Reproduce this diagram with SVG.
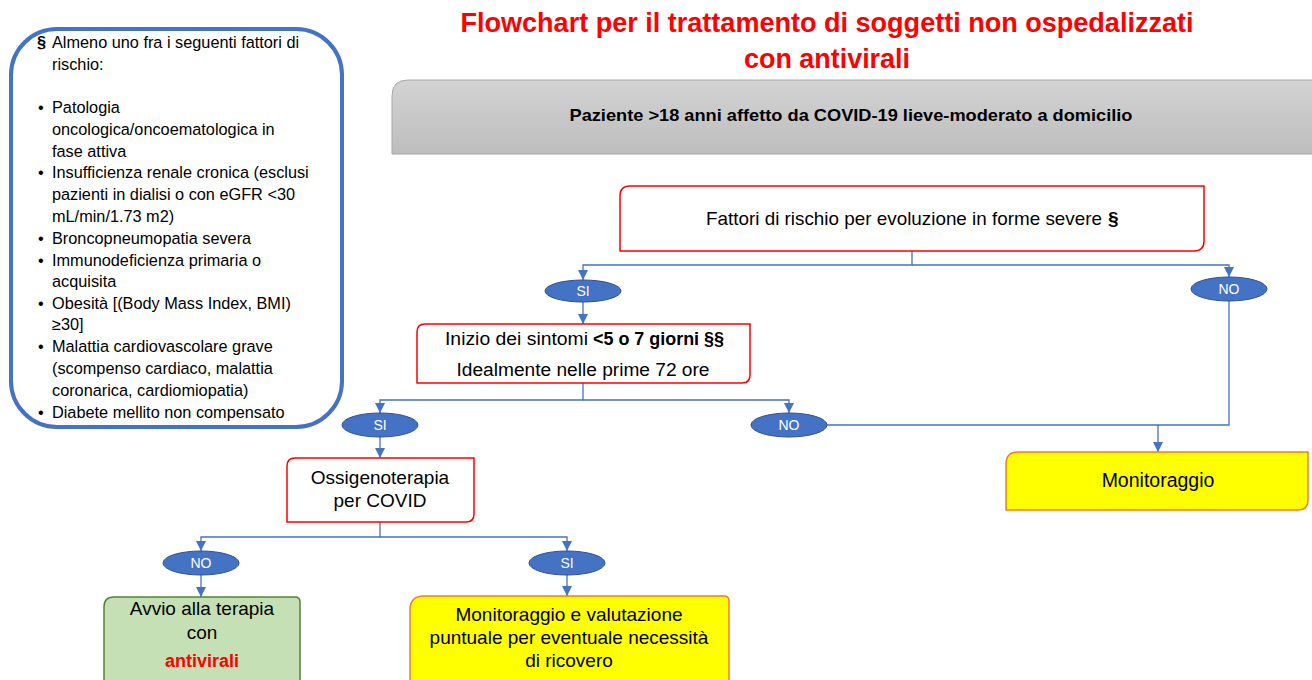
<svg xmlns="http://www.w3.org/2000/svg" width="1312" height="680" viewBox="0 0 1312 680">
<defs>
<linearGradient id="grey" x1="0" y1="0" x2="0" y2="1">
<stop offset="0" stop-color="#d3d3d3"/>
<stop offset="1" stop-color="#bdbdbd"/>
</linearGradient>
<marker id="arr" viewBox="0 0 10 10" refX="10" refY="5" markerWidth="10" markerHeight="10" markerUnits="userSpaceOnUse" orient="auto">
<path d="M0,0 L10,5 L0,10 Z" fill="#4472C4"/>
</marker>
<style>
text{font-family:"Liberation Sans",Arial,sans-serif;fill:#000}
.c{text-anchor:middle}
.b{font-weight:bold}
.red{fill:#ff0000}
.box{fill:#fff;stroke:#ff0000;stroke-width:1.5}
.ell{fill:#4472C4;stroke:#2F528F;stroke-width:1}
.et{fill:#fff;font-size:14px;text-anchor:middle}
.con{fill:none;stroke:#4472C4;stroke-width:1.3}
.lt{font-size:16.3px}
.bt{font-size:19px}
.yel{fill:#ffff00;stroke:#ED7D31;stroke-width:1.5}
</style>
</defs>
<rect width="1312" height="680" fill="#fff"/>

<g id="title">
<text class="c b red" x="827" y="32" font-size="28" textLength="733" lengthAdjust="spacingAndGlyphs">Flowchart per il trattamento di soggetti non ospedalizzati</text>
<text class="c b red" x="827" y="68" font-size="28" textLength="166" lengthAdjust="spacingAndGlyphs">con antivirali</text>
</g>

<g id="risk-list">
<rect x="11" y="29" width="331" height="398" rx="46" ry="46" fill="#fff" stroke="#4472C4" stroke-width="4"/>
<text class="lt b" x="37" y="48">§</text><text class="lt" x="52" y="48">Almeno uno fra i seguenti fattori di</text>
<text class="lt" x="52" y="70">rischio:</text>
<text class="lt" x="38" y="113">•</text><text class="lt" x="52" y="113">Patologia</text>
<text class="lt" x="52" y="135">oncologica/oncoematologica in</text>
<text class="lt" x="52" y="157">fase attiva</text>
<text class="lt" x="38" y="178">•</text><text class="lt" x="52" y="178">Insufficienza renale cronica (esclusi</text>
<text class="lt" x="52" y="200">pazienti in dialisi o con eGFR &lt;30</text>
<text class="lt" x="52" y="222">mL/min/1.73 m2)</text>
<text class="lt" x="38" y="244">•</text><text class="lt" x="52" y="244">Broncopneumopatia severa</text>
<text class="lt" x="38" y="266">•</text><text class="lt" x="52" y="266">Immunodeficienza primaria o</text>
<text class="lt" x="52" y="287">acquisita</text>
<text class="lt" x="38" y="309">•</text><text class="lt" x="52" y="309">Obesità [(Body Mass Index, BMI)</text>
<text class="lt" x="52" y="330">≥30]</text>
<text class="lt" x="38" y="352">•</text><text class="lt" x="52" y="352">Malattia cardiovascolare grave</text>
<text class="lt" x="52" y="374">(scompenso cardiaco, malattia</text>
<text class="lt" x="52" y="396">coronarica, cardiomiopatia)</text>
<text class="lt" x="38" y="418">•</text><text class="lt" x="52" y="418">Diabete mellito non compensato</text>
</g>

<g id="patient">
<path d="M392,154 V96 Q392,80 408,80 H1313 V154 Z" fill="url(#grey)" stroke="#a8a8a8" stroke-width="1"/>
<text class="c b" x="851" y="121" font-size="17" textLength="563" lengthAdjust="spacingAndGlyphs">Paziente &gt;18  anni affetto da COVID-19 lieve-moderato a domicilio</text>
</g>

<g id="connectors">
<path class="con" d="M912,251 V265 H583 V280" marker-end="url(#arr)"/>
<path class="con" d="M912,265 H1229 V277" marker-end="url(#arr)"/>
<path class="con" d="M583,302 V324" marker-end="url(#arr)"/>
<path class="con" d="M1229,301 V425 H827"/>
<path class="con" d="M1158,425 V452" marker-end="url(#arr)"/>
<path class="con" d="M583,383 V400 H380 V413" marker-end="url(#arr)"/>
<path class="con" d="M583,400 H789 V413" marker-end="url(#arr)"/>
<path class="con" d="M380,437 V458" marker-end="url(#arr)"/>
<path class="con" d="M380,522 V537 H201 V551" marker-end="url(#arr)"/>
<path class="con" d="M380,537 H567 V551" marker-end="url(#arr)"/>
<path class="con" d="M201,575 V597" marker-end="url(#arr)"/>
<path class="con" d="M567,575 V596" marker-end="url(#arr)"/>
</g>

<g id="risk-factors">
<path class="box" d="M630,186 H1204 V241 Q1204,251 1194,251 H620 V196 Q620,186 630,186 Z"/>
<text x="706" y="225" font-size="19" textLength="396" lengthAdjust="spacingAndGlyphs">Fattori di rischio per evoluzione in forme severe</text>
<text class="b" x="1108" y="225" font-size="19">§</text>
</g>

<g id="si1">
<ellipse class="ell" cx="583" cy="291" rx="38" ry="11"/>
<text class="et" x="583" y="296">SI</text>
</g>

<g id="no1">
<ellipse class="ell" cx="1229" cy="289" rx="38" ry="12"/>
<text class="et" x="1229" y="294">NO</text>
</g>

<g id="onset">
<path class="box" d="M425,324 H750 V375 Q750,383 742,383 H417 V332 Q417,324 425,324 Z"/>
<text x="445" y="345" font-size="18" textLength="143" lengthAdjust="spacingAndGlyphs">Inizio dei sintomi</text>
<text class="b" x="593" y="345" font-size="18" textLength="131" lengthAdjust="spacingAndGlyphs">&lt;5 o 7 giorni §§</text>
<text class="c" x="583" y="376" font-size="18" textLength="253" lengthAdjust="spacingAndGlyphs">Idealmente nelle prime 72 ore</text>
</g>

<g id="si2">
<ellipse class="ell" cx="380" cy="425" rx="38" ry="12"/>
<text class="et" x="380" y="430">SI</text>
</g>

<g id="no2">
<ellipse class="ell" cx="789" cy="425" rx="38" ry="12"/>
<text class="et" x="789" y="430">NO</text>
</g>

<g id="monitor">
<path class="yel" d="M1018,452 H1308 V500 Q1308,510 1298,510 H1006 V464 Q1006,452 1018,452 Z"/>
<text class="c" x="1158" y="487" font-size="19.5">Monitoraggio</text>
</g>

<g id="oxygen">
<path class="box" d="M295,458 H474 V514 Q474,522 466,522 H287 V466 Q287,458 295,458 Z"/>
<text class="c bt" x="380" y="484">Ossigenoterapia</text>
<text class="c bt" x="380" y="507">per COVID</text>
</g>

<g id="no3">
<ellipse class="ell" cx="201" cy="563" rx="38" ry="12"/>
<text class="et" x="201" y="568">NO</text>
</g>

<g id="si3">
<ellipse class="ell" cx="567" cy="563" rx="38" ry="12"/>
<text class="et" x="567" y="568">SI</text>
</g>

<g id="antiviral">
<path d="M114,597 H295 Q300,597 300,602 V690 H104 V607 Q104,597 114,597 Z" fill="#C5E0B4" stroke="#548235" stroke-width="1.5"/>
<text class="c bt" x="202" y="615">Avvio alla terapia</text>
<text class="c bt" x="202" y="639">con</text>
<text class="c b red" x="202" y="667" font-size="18">antivirali</text>
</g>

<g id="evaluation">
<path class="yel" d="M424,596 H724 Q729,596 729,601 V690 H410 V610 Q410,596 424,596 Z"/>
<text class="c bt" x="569" y="621">Monitoraggio e valutazione</text>
<text class="c bt" x="569" y="644">puntuale per eventuale necessità</text>
<text class="c bt" x="569" y="667">di ricovero</text>
</g>
</svg>
